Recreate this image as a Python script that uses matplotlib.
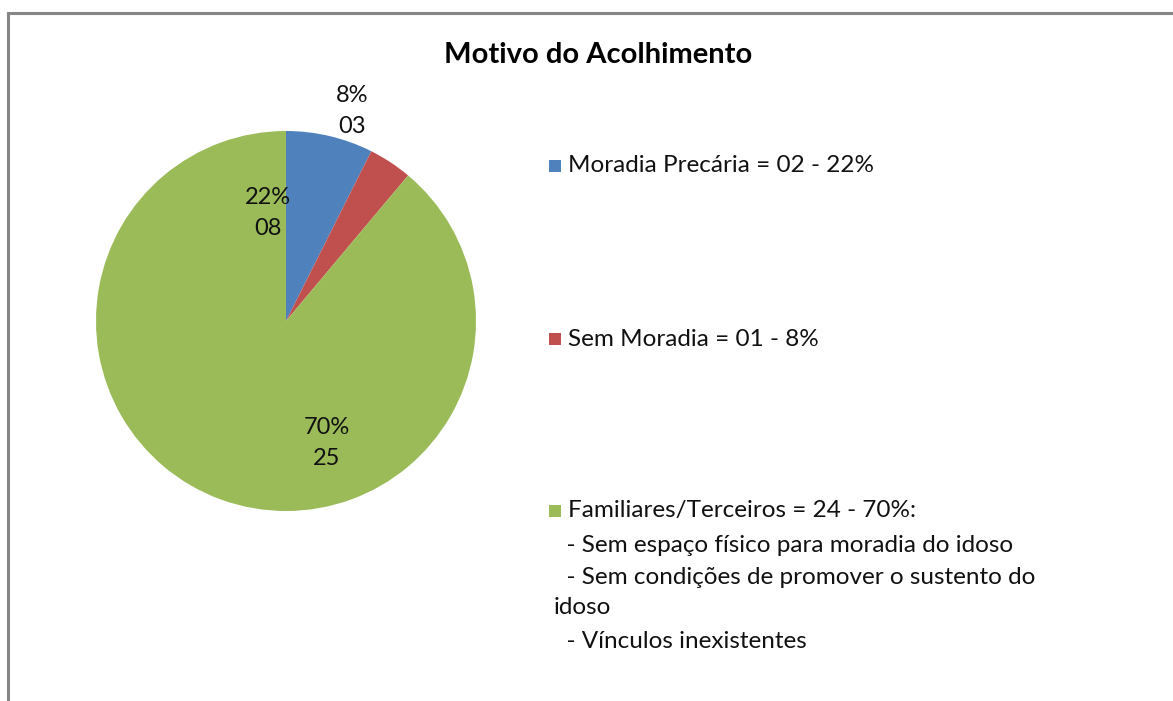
import matplotlib
matplotlib.use("Agg")
import matplotlib.pyplot as plt
from matplotlib.lines import Line2D
from matplotlib.patches import Rectangle

plt.rcParams['font.family'] = ['Lato', 'DejaVu Sans']

title = "Motivo do Acolhimento"
categories = ["Moradia Precária", "Sem Moradia", "Familiares/Terceiros"]
values = [2, 1, 24]
colors = ["#4F81BD", "#C0504D", "#9BBB59"]
slice_labels = ["8%\n03", "22%\n08", "70%\n25"]
legend_texts = [
    "Moradia Precária = 02 - 22%",
    "Sem Moradia = 01 - 8%",
    "Familiares/Terceiros = 24 - 70%:",
]
legend_extra = [
    "  - Sem espaço físico para moradia do idoso",
    "  - Sem condições de promover o sustento do",
    "idoso",
    "  - Vínculos inexistentes",
]

W, H = 1173, 701
fig = plt.figure(figsize=(W / 100, H / 100), dpi=100)
fig.patch.set_facecolor("white")

def fx(px):
    return px / W

def fy(py):
    return 1 - py / H

# border
fig.add_artist(Line2D([fx(8), 1.0], [fy(13), fy(13)], color="#868686", lw=2.2))
fig.add_artist(Line2D([fx(8), fx(8)], [fy(13), 0.0], color="#868686", lw=2.2))

# pie axes: center (286,321), radius 190
cx, cy, r = 286, 321, 190
ax = fig.add_axes([fx(cx - r), fy(cy + r), 2 * r / W, 2 * r / H])
ax.pie(values, colors=colors, startangle=90, counterclock=False,
       wedgeprops=dict(linewidth=0))
ax.set_xlim(-1, 1)
ax.set_ylim(-1, 1)
ax.set_aspect('auto')
ax.axis('off')

def d(px, py):
    return ((px - cx) / r, (cy - py) / r)

label_pos = [(352, 111), (268, 213), (327, 443)]
for txt, (px, py) in zip(slice_labels, label_pos):
    x, y = d(px, py)
    ax.text(x, y, txt, ha="center", va="center", fontsize=17,
            linespacing=1.6, color="#111111", clip_on=False)

fig.text(fx(598), fy(55), title, ha="center", va="center",
         fontsize=21, fontweight="bold", color="black")

# legend
leg_y = [166, 339, 511]
for col, txt, py in zip(colors, legend_texts, leg_y):
    fig.add_artist(Rectangle((fx(549), fy(py + 6)), 12 / W, 12 / H,
                             facecolor=col, edgecolor="none"))
    fig.text(fx(568), fy(py), txt, ha="left", va="center",
             fontsize=17.5, color="#111111")
extra_y = [545, 577, 608, 641]
for txt, py in zip(legend_extra, extra_y):
    fig.text(fx(554), fy(py), txt, ha="left", va="center",
             fontsize=17.5, color="#111111")

fig.savefig("out.png", dpi=100, facecolor="white")
